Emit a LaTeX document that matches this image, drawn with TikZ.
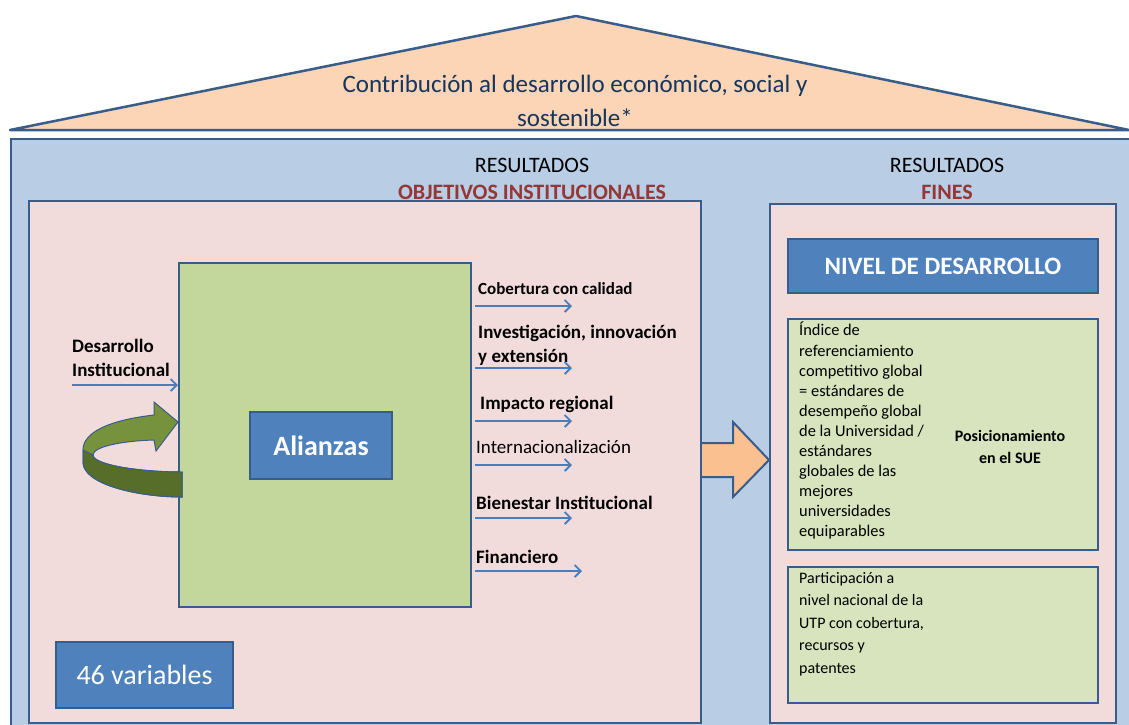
\documentclass[tikz,border=0pt]{standalone}
\usepackage{fontspec}
\setmainfont{Carlito}
\usetikzlibrary{positioning}
\usetikzlibrary{arrows.meta}

\definecolor{edge}{HTML}{385D8A}
\definecolor{roof}{HTML}{FBD5B5}
\definecolor{sky}{HTML}{B9CDE5}
\definecolor{rose}{HTML}{F2DCDB}
\definecolor{leaf}{HTML}{C3D69B}
\definecolor{paleleaf}{HTML}{D7E4BD}
\definecolor{royal}{HTML}{4F81BD}
\definecolor{wine}{HTML}{953735}
\definecolor{navy}{HTML}{17365D}
\definecolor{flowblue}{HTML}{4A7EBB}
\definecolor{apricot}{HTML}{FAC090}
\definecolor{olive}{HTML}{76923C}
\definecolor{darkolive}{HTML}{566E2A}

\begin{document}
\begin{tikzpicture}[x=1pt, y=-1pt,
  panel/.style={rectangle, draw=edge, line width=2.2pt, inner sep=0pt, anchor=north west},
  bluebox/.style={rectangle, draw=edge, line width=2pt, fill=royal, text=white, inner sep=0pt, anchor=north west},
  lbl/.style={anchor=west, inner sep=0pt, font=\fontsize{19}{24}\selectfont\bfseries},
  flow/.style={draw=flowblue, line width=1.8pt, -{Straight Barb[length=6pt, width=12pt]}}]
  \useasboundingbox (0,0) rectangle (1129,724);

  % Draw the roof
  \draw[edge, line width=2.5pt, fill=roof, line join=round] (10,130) -- (576,16) -- (1129,130) -- cycle;
  \node[align=center, text=navy, font=\fontsize{25}{34}\selectfont] (roofText) at (575,101)
    {Contribución al desarrollo económico, social y\\sostenible*};

  % Draw the house body and the two panels
  \node[panel, fill=sky, minimum width=1119pt, minimum height=600pt] (house) at (10,138) {};
  \node[panel, fill=rose, minimum width=672pt, minimum height=522pt] (objPanel) at (28,200) {};
  \node[panel, fill=rose, minimum width=346pt, minimum height=519pt] (finPanel) at (769,203) {};

  \node[font=\fontsize{22}{24}\selectfont] (resA) at (532,165) {RESULTADOS};
  \node[font=\fontsize{22}{24}\selectfont\bfseries, text=wine] (objTitle) at (532,192) {OBJETIVOS INSTITUCIONALES};
  \node[font=\fontsize{22}{24}\selectfont] (resB) at (947,165) {RESULTADOS};
  \node[font=\fontsize{22}{24}\selectfont\bfseries, text=wine] (finTitle) at (947,192) {FINES};

  % Draw the central block
  \node[panel, fill=leaf, minimum width=292pt, minimum height=344pt] (core) at (178,262) {};
  \node[bluebox, minimum width=142pt, minimum height=67pt, font=\fontsize{28}{30}\selectfont\bfseries] (alianzas) at (249,411) {Alianzas};
  \node[bluebox, minimum width=177pt, minimum height=66pt, font=\fontsize{28}{30}\selectfont] (vars) at (55,641) {46 variables};

  % Input arrow and curved arrow
  \node[lbl, align=left] (desInst) at (72,358) {Desarrollo\\Institucional};
  \coordinate (inStart) at (72,385);
  \draw[flow] (inStart) -- (inStart -| core.west);

  \fill[olive, draw=edge, line width=1pt] (154,415) .. controls (110,420) and (83,432) .. (83,450)
    -- (83,462) .. controls (83,485) and (140,497) .. (182,497) -- (182,472)
    .. controls (140,472) and (93,465) .. (93,455) .. controls (93,447) and (120,441) .. (154,440)
    -- (156,451) -- (178,422) -- (154,402) -- cycle;
  \fill[darkolive, draw=edge, line width=1pt] (83,450) -- (83,462) .. controls (83,485) and (140,497) .. (182,497)
    -- (182,472) .. controls (140,472) and (93,465) .. (93,455) -- cycle;

  % Output labels
  \node[lbl, font=\fontsize{17}{24}\selectfont\bfseries] (cob) at (478,289) {Cobertura con calidad};
  \node[lbl, align=left] (inv) at (478,345) {Investigación, innovación\\y extensión};
  \node[lbl] (imp) at (480,404) {Impacto regional};
  \node[lbl, font=\fontsize{19}{24}\selectfont] (int) at (476,447) {Internacionalización};
  \node[lbl] (bie) at (476,503) {Bienestar Institucional};
  \node[lbl] (fin) at (476,557) {Financiero};

  % Output arrows
  \foreach \i/\y/\xe in {1/306/572, 2/368/572, 3/421/572, 4/465/572, 5/518/572, 6/571/582}
  {
    \coordinate (s\i) at (475,\y);
    \coordinate (e\i) at (\xe,\y);
    \draw[flow] (s\i) -- (e\i);
  }

  % Big arrow between the panels
  \draw[edge, line width=2pt, fill=apricot, line join=miter] (objPanel.east |- 0,443) -- (733,443) -- (733,422)
    -- (finPanel.west |- 0,460) -- (733,497) -- (733,477) -- (objPanel.east |- 0,477);

  % Right panel content
  \node[bluebox, minimum width=310pt, minimum height=54pt, font=\fontsize{25}{28}\selectfont\bfseries] (nivel) at (787,238) {NIVEL DE DESARROLLO};
  \node[panel, fill=paleleaf, line width=2pt, minimum width=310pt, minimum height=231pt] (indice) at (787,318) {};
  \node[anchor=north west, inner sep=0pt, align=left, font=\fontsize{16.4}{20.1}\selectfont] (indiceText) at (799,322)
    {Índice de\\referenciamiento\\competitivo global\\= estándares de\\desempeño global\\de la Universidad /\\estándares\\globales de las\\mejores\\universidades\\equiparables};
  \node[align=center, font=\fontsize{16}{22}\selectfont\bfseries] (pos) at (1010,447) {Posicionamiento\\en el SUE};
  \node[panel, fill=paleleaf, line width=2pt, minimum width=310pt, minimum height=136pt] (partic) at (787,566) {};
  \node[anchor=north west, inner sep=0pt, align=left, font=\fontsize{16}{22.5}\selectfont] (particText) at (799,572)
    {Participación a\\nivel nacional de la\\UTP con cobertura,\\recursos y\\patentes};
\end{tikzpicture}
\end{document}
